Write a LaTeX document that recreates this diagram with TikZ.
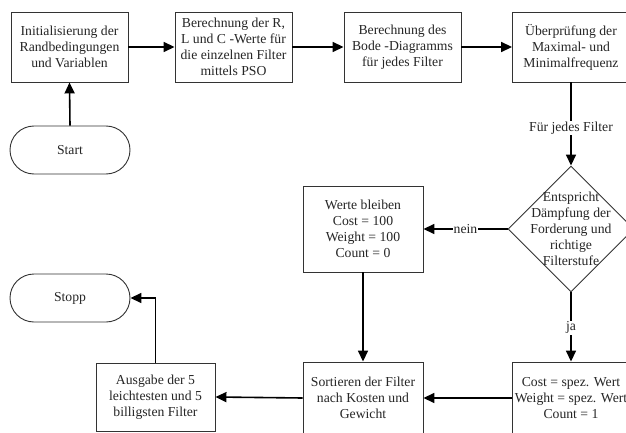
\documentclass[tikz,border=0pt]{standalone}
\usepackage{fontspec}
\setmainfont{Liberation Serif}
\usetikzlibrary{shapes.geometric,arrows.meta}
\begin{document}
\begin{tikzpicture}[x=1pt,y=-1pt,
  txt/.style={font=\fontsize{13.7}{16}\selectfont,text=black!85},
  box/.style={txt,draw=black!80,line width=0.9pt,minimum width=117pt,minimum height=70pt,align=center,inner sep=0pt},
  term/.style={txt,draw=black!80,line width=0.9pt,rounded corners=24pt,minimum width=120pt,minimum height=48pt,inner sep=0pt},
  conn/.style={line width=1.6pt,draw=black,-{Triangle[length=11pt,width=10pt]}},
  lbl/.style={txt,fill=white,inner sep=1pt}]
\useasboundingbox (0,0) rectangle (626,433);
\clip (0,0) rectangle (626,433);
\fill[white] (0,0) rectangle (626,433);
\node[box] (b1) at (69.5,47) {Initialisierung der\\Randbedingungen\\und Variablen};
\node[box] (b2) at (233.5,47) {Berechnung der R,\\L und C -Werte für\\die einzelnen Filter\\mittels PSO};
\node[box] (b3) at (402.5,47) {Berechnung des\\Bode -Diagramms\\für jedes Filter};
\node[box] (b4) at (571,47) {Überprüfung der\\Maximal- und\\Minimalfrequenz};
\node[term] (start) at (70,150) {Start};
\node[draw=black!80,line width=0.9pt,shape=diamond,minimum width=126pt,minimum height=126pt,inner sep=0pt] (d) at (571,229) {};
\node[txt,align=center,inner sep=0pt] (dt) at (d.center) {Entspricht\\Dämpfung der\\Forderung und\\richtige\\Filterstufe};
\node[box,minimum width=120pt,minimum height=86pt] (w) at (363,229) {Werte bleiben\\Cost = 100\\Weight = 100\\Count = 0};
\node[box,minimum width=120pt,minimum height=72pt] (s) at (363,398) {Sortieren der Filter\\nach Kosten und\\Gewicht};
\node[box,minimum width=117pt,minimum height=72pt] (c) at (571,398) {Cost = spez. Wert\\Weight = spez. Wert\\Count = 1};
\node[box,minimum width=119pt,minimum height=68pt] (a) at (155.5,397) {Ausgabe der 5\\leichtesten und 5\\billigsten Filter};
\node[term] (stopp) at (70,298) {Stopp};

\draw[conn] (b1.east) -- (b2.west);
\draw[conn] (b2.east) -- (b3.west);
\draw[conn] (b3.east) -- (b4.west);
\draw[conn] (start.north) -- (b1.south);
\draw[conn] (b4.south) -- node[lbl,pos=0.55] {Für jedes Filter} (d.north);
\draw[conn] (d.west) -- node[lbl,pos=0.5] {nein} (w.east);
\draw[conn] (d.south) -- node[lbl,pos=0.51] {ja} (c.north);
\draw[conn] (w.south) -- (s.north);
\draw[conn] (c.west) -- (s.east);
\draw[conn] (s.west) -- (a.east);
\draw[conn] (a.north) |- (stopp.east);
\end{tikzpicture}
\end{document}
